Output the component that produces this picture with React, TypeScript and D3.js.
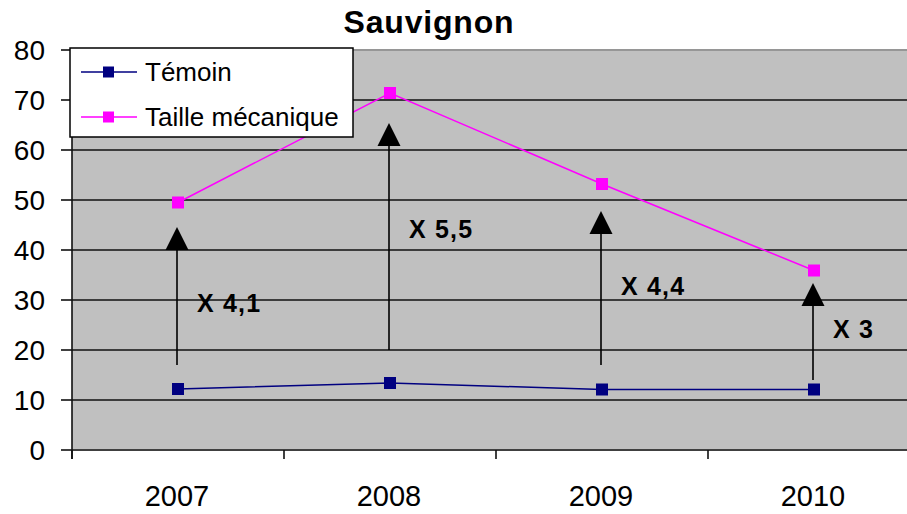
import React from 'react';
import * as d3 from 'd3';

// data
const years = ['2007', '2008', '2009', '2010'];
const temoin = [12.2, 13.4, 12.1, 12.1];
const tailleMecanique = [49.5, 71.4, 53.2, 35.9];
const yTicks = [0, 10, 20, 30, 40, 50, 60, 70, 80];

// "X n" annotations: arrow from / to (data units), label and its height
const arrowFrom = [17, 20, 17, 14];
const arrowTo = [44.6, 65.4, 47.8, 33.4];
const ratioLabels = ['X 4,1', 'X 5,5', 'X 4,4', 'X 3'];
const ratioLabelAt = [29.4, 44.2, 32.8, 24.2];

const W = 907;
const H = 514;
const FONT = '"Liberation Sans", Arial, sans-serif';

export default function App() {
    const x = d3.scaleBand().domain(years).range([72, 920]).paddingInner(0).paddingOuter(0);
    const y = d3.scaleLinear().domain([0, 80]).range([450, 50]);
    const cx = (d: string) => (x(d) as number) + x.bandwidth() / 2;

    const line = d3.line<number>()
        .x((_, i) => cx(years[i]))
        .y(d => y(d));

    const series = [
        { name: 'Témoin', values: temoin, color: '#000080' },
        { name: 'Taille mécanique', values: tailleMecanique, color: '#ff00ff' },
    ];

    const left = x.range()[0];
    const right = x.range()[1];
    const tickEdges = years.map(d => x(d) as number).concat([right]);

    return (
        <svg width={W} height={H} style={{ position: 'absolute', left: 0, top: 0 }} fontFamily={FONT}>
            <rect width={W} height={H} fill="#fff" />

            {/* plot area */}
            <rect x={left} y={y(80)} width={right - left} height={y(0) - y(80)} fill="#c0c0c0" />
            {yTicks.filter(t => t > 0 && t < 80).map(t => (
                <line key={t} x1={left} x2={right} y1={y(t)} y2={y(t)} stroke="#111" strokeWidth={1.6} />
            ))}
            <line x1={left} x2={right} y1={y(80)} y2={y(80)} stroke="#969696" strokeWidth={2} />
            <line x1={left} x2={right} y1={y(0)} y2={y(0)} stroke="#404040" strokeWidth={2} />
            <line x1={left} x2={left} y1={y(80)} y2={y(0) + 9} stroke="#111" strokeWidth={1.6} />

            {/* y axis */}
            {yTicks.map(t => (
                <g key={t}>
                    <line x1={left - 11} x2={left} y1={y(t)} y2={y(t)} stroke="#111" strokeWidth={1.6} />
                    <text x={45} y={y(t)} dy="0.36em" textAnchor="end" fontSize={28} fill="#000">{t}</text>
                </g>
            ))}

            {/* x axis */}
            {tickEdges.map((e, i) => (
                <line key={i} x1={e} x2={e} y1={y(0)} y2={y(0) + 9} stroke="#111" strokeWidth={1.6} />
            ))}
            {years.map(d => (
                <text key={d} x={cx(d) - 1} y={506} textAnchor="middle" fontSize={29} fill="#000">{d}</text>
            ))}

            {/* arrows */}
            {years.map((d, i) => {
                const px = cx(d) - 1;
                const tip = y(arrowTo[i]);
                return (
                    <g key={d}>
                        <line x1={px} x2={px} y1={y(arrowFrom[i])} y2={tip + 20} stroke="#000" strokeWidth={1.6} />
                        <path d={`M${px},${tip} L${px - 11.5},${tip + 23} L${px + 11.5},${tip + 23} Z`} fill="#000" />
                        <text x={px + 20} y={y(ratioLabelAt[i])} dy="0.36em" fontSize={25} letterSpacing={1.2}
                            fontWeight="bold" fill="#000">
                            {ratioLabels[i]}
                        </text>
                    </g>
                );
            })}

            {/* series */}
            {series.map(s => (
                <g key={s.name}>
                    <path d={line(s.values) as string} fill="none" stroke={s.color} strokeWidth={1.5} />
                    {s.values.map((v, i) => (
                        <rect key={i} x={cx(years[i]) - 6} y={y(v) - 6} width={12} height={12} fill={s.color} />
                    ))}
                </g>
            ))}

            {/* title */}
            <text x={429} y={33} textAnchor="middle" fontSize={32} letterSpacing={0.8} fontWeight="bold" fill="#000">
                Sauvignon
            </text>

            {/* legend */}
            <rect x={70} y={48} width={283} height={89} fill="#fff" stroke="#000" strokeWidth={1.5} />
            {series.map((s, i) => {
                const ly = 72 + i * 45;
                return (
                    <g key={s.name}>
                        <line x1={81} x2={137} y1={ly} y2={ly} stroke={s.color} strokeWidth={1.5} />
                        <rect x={103} y={ly - 5.5} width={11} height={11} fill={s.color} />
                        <text x={145} y={ly} dy="0.36em" fontSize={26} fill="#000">{s.name}</text>
                    </g>
                );
            })}
        </svg>
    );
}
